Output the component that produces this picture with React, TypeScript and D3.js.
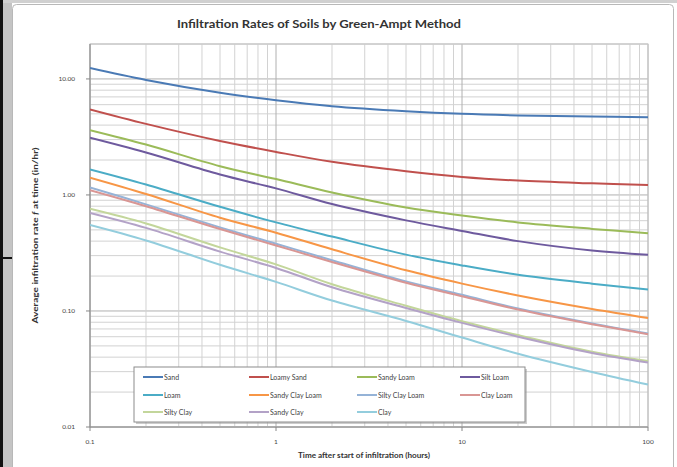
import React from "react";
import * as d3 from "d3";

const times = [0.1, 0.2, 0.5, 1, 2, 5, 10, 20, 50, 100];

const sand = [12.4, 9.8, 7.6, 6.55, 5.82, 5.27, 5.0, 4.85, 4.74, 4.68];
const loamySand = [5.46, 4.1, 2.92, 2.35, 1.93, 1.6, 1.43, 1.33, 1.26, 1.22];
const sandyLoam = [3.62, 2.72, 1.77, 1.37, 1.05, 0.78, 0.665, 0.58, 0.51, 0.468];
const siltLoam = [3.11, 2.32, 1.5, 1.14, 0.835, 0.604, 0.49, 0.4, 0.332, 0.305];
const loam = [1.66, 1.23, 0.79, 0.58, 0.438, 0.306, 0.247, 0.205, 0.172, 0.153];
const sandyClayLoam = [1.41, 1.02, 0.636, 0.473, 0.34, 0.224, 0.172, 0.136, 0.104, 0.087];
const siltyClayLoam = [1.16, 0.83, 0.525, 0.38, 0.274, 0.18, 0.138, 0.105, 0.078, 0.064];
const clayLoam = [1.1, 0.8, 0.508, 0.367, 0.264, 0.175, 0.134, 0.103, 0.077, 0.063];
const siltyClay = [0.76, 0.568, 0.353, 0.252, 0.17, 0.111, 0.0817, 0.062, 0.0446, 0.037];
const sandyClay = [0.7, 0.52, 0.325, 0.235, 0.16, 0.106, 0.079, 0.06, 0.0435, 0.036];
const clay = [0.55, 0.405, 0.25, 0.178, 0.123, 0.082, 0.059, 0.0428, 0.0298, 0.0232];

const soilNames = [
  "Sand", "Loamy Sand", "Sandy Loam", "Silt Loam",
  "Loam", "Sandy Clay Loam", "Silty Clay Loam", "Clay Loam",
  "Silty Clay", "Sandy Clay", "Clay",
];
const soilValues = [
  sand, loamySand, sandyLoam, siltLoam, loam, sandyClayLoam,
  siltyClayLoam, clayLoam, siltyClay, sandyClay, clay,
];
const soilColors = [
  "#4a7ab5", "#c0504d", "#9bbb59", "#6e5a9e", "#4bacc6", "#f79646",
  "#95b3d7", "#d99694", "#c3d69b", "#b3a2c7", "#93cddd",
];

const xTickValues = [0.1, 1, 10, 100];
const xTickLabels = ["0.1", "1", "10", "100"];
const yTickValues = [0.01, 0.1, 1, 10];
const yTickLabels = ["0.01", "0.10", "1.00", "10.00"];

const titleText = "Infiltration Rates of Soils by Green-Ampt Method";
const xTitle = "Time after start of infiltration (hours)";

export default function App() {
  const W = 677, H = 467;
  const left = 90, right = 648, top = 44, bottom = 427;
  const x = d3.scaleLog().domain([0.1, 100]).range([left, right]);
  const y = d3.scaleLog().domain([0.01, 20]).range([bottom, top]);

  const xGrid: { v: number; major: boolean }[] = [];
  [0.1, 1, 10].forEach((d) => {
    for (let k = 1; k <= 9; k++) xGrid.push({ v: d * k, major: k === 1 });
  });
  xGrid.push({ v: 100, major: true });
  const yGrid: { v: number; major: boolean }[] = [];
  [0.01, 0.1, 1, 10].forEach((d) => {
    for (let k = 1; k <= 9; k++) {
      const v = d * k;
      if (v <= 20.0001) yGrid.push({ v, major: k === 1 });
    }
  });
  yGrid.push({ v: 20, major: false });

  const line = d3
    .line<number>()
    .x((_, i) => x(times[i]))
    .y((d) => y(d))
    .curve(d3.curveCatmullRom.alpha(0.5));

  const font = "Lato, 'Open Sans', 'Liberation Sans', sans-serif";
  const legCols = [143, 249, 357, 460];
  const legRows = [377, 395, 412];

  return (
    <svg
      width={W}
      height={H}
      style={{ position: "absolute", left: 0, top: 0, background: "#fff" }}
      fontFamily={font}
    >
      <rect x={0} y={0} width={W} height={H} fill="#ffffff" />
      {/* screenshot frame */}
      <rect x={0} y={0} width={12} height={H} fill="#c4c4c4" />
      <rect x={0} y={0} width={W} height={3} fill="#d0d0d0" />
      <rect x={0} y={0} width={3} height={H} fill="#111" />
      <rect x={0} y={257} width={22} height={2} fill="#111" />
      <rect x={12.5} y={4.5} width={661} height={470} rx={4} fill="#fff" stroke="#b8b8b8" />

      <text
        x={319}
        y={28}
        textAnchor="middle"
        fontSize={11}
        fontWeight="bold"
        fill="#333"
        textLength={284}
        lengthAdjust="spacingAndGlyphs"
      >
        {titleText}
      </text>

      {/* grid */}
      {yGrid.map((g, i) => (
        <line
          key={"yg" + i}
          x1={left}
          x2={right}
          y1={y(g.v)}
          y2={y(g.v)}
          stroke={g.major ? "#b0b0b0" : "#d2d2d2"}
          strokeWidth={1}
        />
      ))}
      {xGrid.map((g, i) => (
        <line
          key={"xg" + i}
          x1={x(g.v)}
          x2={x(g.v)}
          y1={top}
          y2={bottom}
          stroke={g.major ? "#b0b0b0" : "#d2d2d2"}
          strokeWidth={1}
        />
      ))}
      <rect x={left} y={top} width={right - left} height={bottom - top} fill="none" stroke="#c8c8c8" />

      {/* axes */}
      <line x1={left} x2={left} y1={top} y2={bottom} stroke="#888" />
      <line x1={left} x2={right} y1={bottom} y2={bottom} stroke="#888" />
      {yTickValues.map((v, i) => (
        <g key={"yt" + i}>
          <line x1={left - 4} x2={left} y1={y(v)} y2={y(v)} stroke="#888" />
          <text x={75} y={y(v) + 2.2} textAnchor="end" fontSize={6.5} fill="#444">
            {yTickLabels[i]}
          </text>
        </g>
      ))}
      {xTickValues.map((v, i) => (
        <g key={"xt" + i}>
          <line x1={x(v)} x2={x(v)} y1={bottom} y2={bottom + 4} stroke="#888" />
          <text x={x(v)} y={444} textAnchor="middle" fontSize={6.5} fill="#444">
            {xTickLabels[i]}
          </text>
        </g>
      ))}
      <text
        x={364}
        y={458}
        textAnchor="middle"
        fontSize={7}
        fontWeight="bold"
        fill="#333"
        textLength={132}
        lengthAdjust="spacingAndGlyphs"
      >
        {xTitle}
      </text>
      <text
        transform={`translate(38,${(top + bottom) / 2}) rotate(-90)`}
        textAnchor="middle"
        fontSize={7}
        fontWeight="bold"
        fill="#333"
        textLength={176}
        lengthAdjust="spacingAndGlyphs"
      >
        Average infiltration rate <tspan fontStyle="italic">f</tspan> at time (in/hr)
      </text>

      {/* series */}
      <g clipPath="url(#plotclip)">
        {soilValues.map((vals, i) => (
          <path
            key={"s" + i}
            d={line(vals) || ""}
            fill="none"
            stroke={soilColors[i]}
            strokeWidth={2}
          />
        ))}
      </g>
      <defs>
        <clipPath id="plotclip">
          <rect x={left} y={top} width={right - left + 2} height={bottom - top} />
        </clipPath>
      </defs>

      {/* legend */}
      <rect x={136} y={369} width={391} height={55} fill="#9a9a9a" opacity={0.5} />
      <rect x={134} y={367} width={391} height={55} fill="#fff" stroke="#8c8c8c" />
      {soilNames.map((n, i) => {
        const cx = legCols[i % 4];
        const cy = legRows[Math.floor(i / 4)];
        return (
          <g key={"l" + i}>
            <line x1={cx} x2={cx + 20} y1={cy} y2={cy} stroke={soilColors[i]} strokeWidth={2} />
            <text x={cx + 21} y={cy + 2.5} fontSize={7} fill="#444">
              {n}
            </text>
          </g>
        );
      })}
    </svg>
  );
}
